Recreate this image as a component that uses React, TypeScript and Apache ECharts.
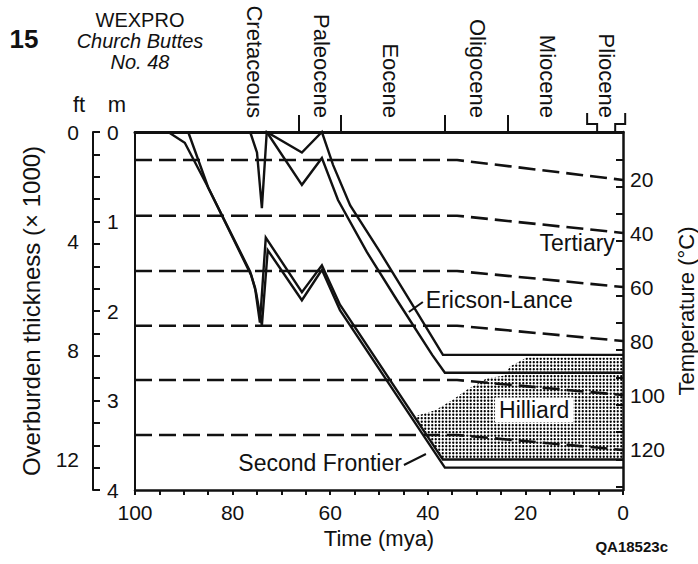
import React, { useEffect, useRef } from "react";
import * as echarts from "echarts";

const FONT = '"Liberation Sans", Arial, Helvetica, sans-serif';
const INK = "#111";

// ---------- data (age in mya, depth in km) ----------
const frontierTopAge = [93.2, 89.8, 85.3, 76.4, 75.4, 74.4, 73.2, 65.8, 61.7, 58.0, 36.9, 0];
const frontierTopDepth = [0, 0.12, 0.59, 1.56, 1.74, 2.13, 1.18, 1.79, 1.49, 1.93, 3.66, 3.66];

const frontierBaseAge = [89.1, 85.0, 76.2, 75.2, 74.0, 72.8, 65.8, 61.7, 58.0, 36.5, 0];
const frontierBaseDepth = [0, 0.62, 1.6, 1.79, 2.16, 1.32, 1.88, 1.54, 1.99, 3.75, 3.75];

const ericsonTopAge = [76.4, 75.0, 74.0, 73.0, 65.8, 61.7, 59.4, 55.9, 49.8, 43.7, 36.9, 0];
const ericsonTopDepth = [0, 0.23, 0.85, 0, 0.23, 0, 0.37, 0.82, 1.34, 1.88, 2.49, 2.49];

const ericsonBaseAge = [73.0, 65.8, 61.7, 58.4, 52.5, 46.3, 39.1, 36.5, 0];
const ericsonBaseDepth = [0, 0.59, 0.29, 0.76, 1.34, 1.88, 2.49, 2.69, 2.69];

// Hilliard stippled area outline
const hilliardAge = [0, 19.7, 23.2, 24.2, 27.9, 32.0, 34.8, 38.5, 42.8, 36.9, 0];
const hilliardDepth = [2.52, 2.52, 2.62, 2.72, 2.75, 2.88, 2.99, 3.11, 3.18, 3.66, 3.66];

// Isotherms: depth before ~34 mya and at present
const isoTemps = [20, 40, 60, 80, 100, 120];
const isoDepthPast = [0.313, 0.935, 1.553, 2.164, 2.771, 3.385];
const isoDepthNow = [0.536, 1.128, 1.732, 2.335, 2.939, 3.553];
const isoBendAge = 34;

// Epochs
const epochNames = ["Cretaceous", "Paleocene", "Eocene", "Oligocene", "Miocene", "Pliocene"];
const epochLabelAge = [75.6, 61.7, 47.7, 29.9, 15.4, 3.3];
const epochBoundaries = [66.4, 57.8, 36.6, 23.7];
const plioceneBounds = [5.3, 1.6];

// Axis ticks / labels
const timeLabels = [100, 80, 60, 40, 20, 0];
const metreTicks = [0, 0.25, 0.5, 0.75, 1, 1.25, 1.5, 1.75, 2, 2.25, 2.5, 2.75, 3, 3.25, 3.5, 3.75, 4];
const metreLabels = [0, 1, 2, 3, 4];
const feetTicks = [0, 1, 2, 3, 4, 5, 6, 7, 8, 9, 10, 11, 12, 13];
const feetLabels = [0, 4, 8, 12];
const KM_PER_KFT = 0.3048;

const zip = (a: number[], b: number[]) => a.map((v, i) => [v, b[i]]);

function makeStipple(): string {
  const c = document.createElement("canvas");
  c.width = 7;
  c.height = 7;
  const g = c.getContext("2d")!;
  g.fillStyle = "#000";
  const pts = [1.75, 5.25];
  for (const px of pts)
    for (const py of pts) {
      g.beginPath();
      g.arc(px, py, 1.15, 0, Math.PI * 2);
      g.fill();
    }
  return c.toDataURL();
}

export default function App() {
  const ref = useRef<HTMLDivElement>(null);
  useEffect(() => {
    document.body.style.margin = "0";
    const chart = echarts.init(ref.current!, null, { renderer: "svg" });

    // temperature axis range derived from isotherm end depths
    const n = isoTemps.length - 1;
    const slope = (isoTemps[n] - isoTemps[0]) / (isoDepthNow[n] - isoDepthNow[0]);
    const tTop = isoTemps[0] - isoDepthNow[0] * slope;
    const tBase = isoTemps[0] + (4 - isoDepthNow[0]) * slope;

    const txt = { color: INK, fontFamily: FONT };
    const pattern: any = { image: makeStipple(), repeat: "repeat", imageWidth: 7, imageHeight: 7 };

    const burial = (name: string, age: number[], depth: number[]) => ({
      name,
      type: "line",
      data: zip(age, depth),
      symbol: "none",
      showSymbol: false,
      clip: false,
      silent: true,
      z: 5,
      lineStyle: { color: INK, width: 2.4, join: "miter" },
    });

    const isotherms = isoTemps.map((t, i) => ({
      name: `${t}°C`,
      type: "line",
      data: [
        [100, isoDepthPast[i]],
        [isoBendAge, isoDepthPast[i]],
        [0, isoDepthNow[i]],
      ],
      symbol: "none",
      showSymbol: false,
      clip: false,
      silent: true,
      z: 3,
      lineStyle: { color: INK, width: 2.6, type: [17, 7] },
    }));

    const hilliardPoly = zip(hilliardAge, hilliardDepth);

    chart.setOption({
      animation: false,
      backgroundColor: "#fff",
      grid: { left: 135, right: 75, top: 132, bottom: 74, containLabel: false, outerBoundsMode: "none" },
      xAxis: [
        {
          type: "value",
          min: 0,
          max: 100,
          interval: 5,
          inverse: true,
          position: "bottom",
          axisLine: { show: true, onZero: false, lineStyle: { color: INK, width: 2.5 } },
          axisTick: { show: true, length: 5, lineStyle: { color: INK, width: 2 } },
          axisLabel: {
            ...txt,
            fontSize: 21,
            margin: 12,
            showMinLabel: true,
            showMaxLabel: true,
            formatter: (v: number) => (timeLabels.includes(v) ? String(v) : ""),
          },
          splitLine: { show: false },
          name: "Time (mya)",
          nameLocation: "middle",
          nameGap: 37,
          nameTextStyle: { ...txt, fontSize: 22 },
        },
        {
          type: "value",
          min: 0,
          max: 100,
          inverse: true,
          position: "top",
          axisLine: { show: true, onZero: false, lineStyle: { color: INK, width: 3 } },
          axisTick: { show: true, customValues: epochBoundaries, length: 17, lineStyle: { color: INK, width: 2 } },
          axisLabel: {
            ...txt,
            fontSize: 22,
            rotate: 90,
            margin: 14,
            customValues: epochLabelAge,
            formatter: (v: number) => {
              const i = epochLabelAge.findIndex((a) => Math.abs(a - v) < 1e-6);
              return i >= 0 ? epochNames[i] : "";
            },
          },
          splitLine: { show: false },
        },
      ],
      yAxis: [
        {
          type: "value",
          min: 0,
          max: 4,
          inverse: true,
          position: "left",
          axisLine: { show: true, onZero: false, lineStyle: { color: INK, width: 2 } },
          axisTick: { show: false },
          axisLabel: { show: false },
          splitLine: { show: false },
        },
        {
          type: "value",
          min: 0,
          max: 4,
          inverse: true,
          position: "left",
          offset: 42,
          axisLine: { show: true, onZero: false, lineStyle: { color: INK, width: 2 } },
          axisTick: { show: true, inside: true, length: 7, customValues: metreTicks, lineStyle: { color: INK, width: 2 } },
          axisLabel: { ...txt, fontSize: 21, inside: true, margin: 14, customValues: metreLabels },
          splitLine: { show: false },
        },
        {
          type: "value",
          min: 0,
          max: 4 / KM_PER_KFT,
          inverse: true,
          position: "left",
          offset: 42,
          axisLine: { show: false },
          axisTick: { show: true, length: 7, customValues: feetTicks, lineStyle: { color: INK, width: 2 } },
          axisLabel: { ...txt, fontSize: 21, margin: 14, customValues: feetLabels },
          splitLine: { show: false },
          name: "Overburden thickness (× 1000)",
          nameLocation: "middle",
          nameGap: 50,
          nameTextStyle: { ...txt, fontSize: 24 },
        },
        {
          type: "value",
          min: tTop,
          max: tBase,
          inverse: true,
          position: "right",
          axisLine: { show: true, onZero: false, lineStyle: { color: INK, width: 2.5 } },
          axisTick: { show: false },
          axisLabel: { ...txt, fontSize: 21, margin: 7, customValues: isoTemps },
          splitLine: { show: false },
          name: "Temperature (°C)",
          nameLocation: "middle",
          nameGap: 50,
          nameRotate: 90,
          nameTextStyle: { ...txt, fontSize: 22 },
        },
      ],
      series: [
        {
          name: "Hilliard",
          type: "custom",
          coordinateSystem: "cartesian2d",
          xAxisIndex: 0,
          yAxisIndex: 0,
          data: hilliardPoly,
          silent: true,
          z: 1,
          clip: false,
          renderItem: (params: any, api: any) => {
            if (params.dataIndex !== 0) return null;
            const pts = hilliardPoly.map((p) => api.coord(p));
            return { type: "polygon", shape: { points: pts }, style: { fill: pattern, stroke: null } };
          },
        },
        ...isotherms,
        burial("Frontier top", frontierTopAge, frontierTopDepth),
        burial("Frontier base", frontierBaseAge, frontierBaseDepth),
        burial("Ericson-Lance top", ericsonTopAge, ericsonTopDepth),
        burial("Ericson-Lance base", ericsonBaseAge, ericsonBaseDepth),
      ],
    });

    const px = (t: number, d: number) => chart.convertToPixel({ xAxisIndex: 0, yAxisIndex: 0 }, [t, d]) as number[];
    const asDepth = (y: number) => (chart.convertFromPixel({ xAxisIndex: 0, yAxisIndex: 0 }, [300, y]) as number[])[1];
    const top = px(0, 0)[1];
    const [xa] = px(plioceneBounds[0], 0);
    const [xb] = px(plioceneBounds[1], 0);
    const lineStyle = { stroke: INK, lineWidth: 2, fill: null };
    const label = (text: string, x: number, y: number, size: number, extra: any = {}) => ({
      type: "text",
      x,
      y,
      silent: true,
      z: 10,
      style: {
        text,
        fill: INK,
        font: `${extra.italic ? "italic" : "normal"} ${extra.weight || "normal"} ${size}px ${FONT}`,
        textAlign: extra.align || "center",
        align: extra.align || "center",
        textVerticalAlign: "middle",
        verticalAlign: "middle",
        ...(extra.bg ? { backgroundColor: "#fff", padding: [1, 4] } : {}),
      },
    });
    const [tx, ty] = px(9.4, 1.24);
    const [ex, ey] = px(40.4, asDepth(300));
    const [hx, hy] = px(18.2, asDepth(410));
    const [sx, sy] = px(45.3, asDepth(463));

    chart.setOption({
      graphic: [
        { type: "polyline", silent: true, shape: { points: [[xa, top], [xa, top - 8], [xa - 10, top - 8], [xa - 10, top - 19]] }, style: lineStyle },
        { type: "polyline", silent: true, shape: { points: [[xb, top], [xb, top - 8], [xb + 10, top - 8], [xb + 10, top - 19]] }, style: lineStyle },
        label("15", 24, 39, 26, { weight: "bold" }),
        label("WEXPRO", 140, 20, 20),
        label("Church Buttes", 140, 41, 20, { italic: true }),
        label("No. 48", 140, 62, 20, { italic: true }),
        label("ft", 79, 104, 22),
        label("m", 117, 104, 22),
        label("Tertiary", tx, ty, 23),
        label("Ericson-Lance", ex, ey, 23, { align: "left" }),
        label("Hilliard", hx, hy, 23, { bg: true }),
        label("Second Frontier", sx, sy, 23, { align: "right" }),
        { type: "line", silent: true, shape: { x1: ex - 17, y1: ey + 12, x2: ex - 3, y2: ey + 2 }, style: { stroke: INK, lineWidth: 2 } },
        { type: "line", silent: true, shape: { x1: sx + 2, y1: sy + 2, x2: sx + 24, y2: sy - 9 }, style: { stroke: INK, lineWidth: 2 } },
        label("QA18523c", 668, 546, 15, { weight: "bold", align: "right" }),
      ],
    });

    return () => chart.dispose();
  }, []);
  return <div ref={ref} style={{ position: "absolute", left: 0, top: 0, width: 698, height: 564, background: "#fff" }} />;
}
